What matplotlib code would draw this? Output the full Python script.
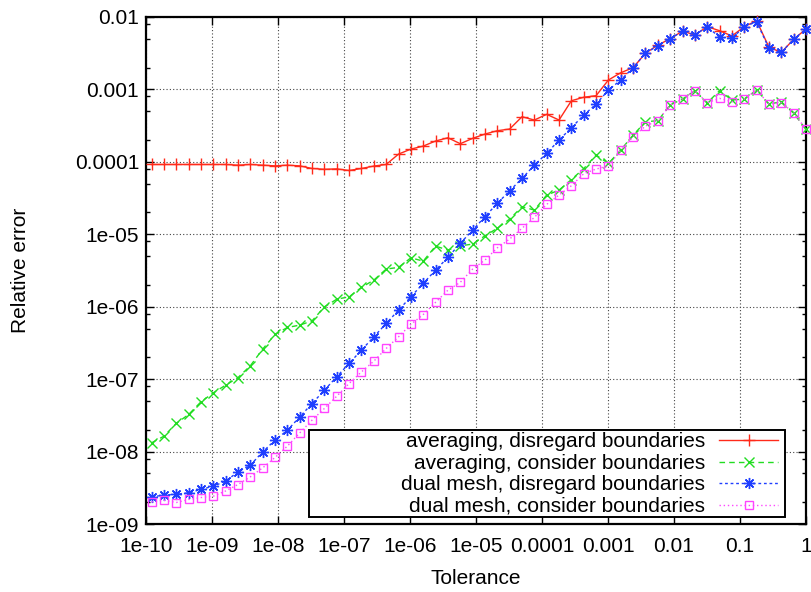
import numpy as np
import matplotlib
matplotlib.use("Agg")
import matplotlib.pyplot as plt
from matplotlib.ticker import FixedLocator, FuncFormatter, NullLocator
from matplotlib.patches import Rectangle

plt.rcParams['font.family'] = ['Liberation Sans', 'DejaVu Sans']
plt.rcParams['font.size'] = 15

# tolerance grid: 54 values, ratio 0.65 down from 1
tol = 0.65 ** np.arange(53, -1, -1)

avg_disregard = [9.2e-5, 9.2e-5, 9.2e-5, 9.2e-5, 9.2e-5, 9.2e-5, 9.2e-5, 9.0e-5, 9.2e-5, 9.0e-5,
                 8.8e-5, 9.0e-5, 8.8e-5, 8.1e-5, 7.9e-5, 8.0e-5, 7.6e-5, 8.1e-5, 8.75e-5, 9.2e-5,
                 1.28e-4, 1.50e-4, 1.65e-4, 1.94e-4, 2.15e-4, 1.78e-4, 2.11e-4, 2.42e-4, 2.69e-4, 2.84e-4,
                 4.2e-4, 3.78e-4, 4.53e-4, 3.78e-4, 6.98e-4, 7.8e-4, 8.2e-4, 1.35e-3, 1.70e-3, 2.0e-3,
                 3.16e-3, 4.1e-3, 5.0e-3, 6.4e-3, 5.64e-3, 7.35e-3, 6.47e-3, 5.47e-3, 7.35e-3, 8.9e-3,
                 3.82e-3, 3.25e-3, 4.92e-3, 6.83e-3]
avg_consider = [1.32e-8, 1.63e-8, 2.45e-8, 3.25e-8, 4.86e-8, 6.47e-8, 8.26e-8, 1.05e-7, 1.53e-7, 2.6e-7,
                4.14e-7, 5.17e-7, 5.57e-7, 6.38e-7, 9.97e-7, 1.27e-6, 1.37e-6, 1.85e-6, 2.33e-6, 3.31e-6,
                3.49e-6, 4.73e-6, 4.26e-6, 6.87e-6, 6.05e-6, 6.93e-6, 7.32e-6, 9.53e-6, 1.21e-5, 1.62e-5,
                2.4e-5, 2.16e-5, 3.48e-5, 4.07e-5, 5.7e-5, 8.07e-5, 1.24e-4, 9.5e-5, 1.46e-4, 2.34e-4,
                3.58e-4, 3.70e-4, 6.1e-4, 7.37e-4, 9.6e-4, 6.55e-4, 9.6e-4, 7.14e-4, 7.37e-4, 9.8e-4,
                6.28e-4, 6.76e-4, 4.68e-4, 2.81e-4]
dual_disregard = [2.37e-9, 2.5e-9, 2.58e-9, 2.69e-9, 3.0e-9, 3.33e-9, 3.9e-9, 5.25e-9, 6.5e-9, 9.9e-9,
                  1.44e-8, 1.97e-8, 3.01e-8, 4.61e-8, 7.05e-8, 1.08e-7, 1.65e-7, 2.52e-7, 3.84e-7, 5.87e-7,
                  8.97e-7, 1.37e-6, 2.1e-6, 3.2e-6, 4.8e-6, 7.5e-6, 1.14e-5, 1.75e-5, 2.67e-5, 3.99e-5,
                  5.9e-5, 9.0e-5, 1.31e-4, 2.0e-4, 2.96e-4, 4.42e-4, 6.28e-4, 9.8e-4, 1.35e-3, 2.0e-3,
                  3.16e-3, 4.0e-3, 5.0e-3, 6.4e-3, 5.64e-3, 7.35e-3, 5.25e-3, 5.08e-3, 7.35e-3, 8.6e-3,
                  3.7e-3, 3.25e-3, 4.92e-3, 6.83e-3]
dual_consider = [2.02e-9, 2.13e-9, 1.98e-9, 2.18e-9, 2.32e-9, 2.42e-9, 2.86e-9, 3.51e-9, 4.48e-9, 5.96e-9,
                 8.3e-9, 1.19e-8, 1.81e-8, 2.72e-8, 3.94e-8, 5.82e-8, 8.7e-8, 1.26e-7, 1.77e-7, 2.65e-7,
                 3.84e-7, 5.7e-7, 7.8e-7, 1.15e-6, 1.69e-6, 2.17e-6, 3.31e-6, 4.4e-6, 6.5e-6, 8.6e-6,
                 1.21e-5, 1.71e-5, 2.59e-5, 3.48e-5, 4.68e-5, 6.86e-5, 7.96e-5, 8.75e-5, 1.46e-4, 2.22e-4,
                 3.12e-4, 3.70e-4, 6.1e-4, 7.37e-4, 9.6e-4, 6.55e-4, 7.53e-4, 6.76e-4, 7.37e-4, 9.8e-4,
                 6.28e-4, 6.55e-4, 4.77e-4, 2.81e-4]

labels = ["averaging, disregard boundaries", "averaging, consider boundaries",
          "dual mesh, disregard boundaries", "dual mesh, consider boundaries"]

fig = plt.figure(figsize=(8.12, 5.92), dpi=100)
ax = fig.add_axes([146 / 812, 68 / 592, 660 / 812, 507 / 592])

ax.plot(tol, avg_disregard, color='#ff2a1a', lw=1, ls='-', marker='+', ms=8, mew=1,
        label=labels[0], clip_on=False, zorder=3)
ax.plot(tol, avg_consider, color='#22dd22', lw=1, ls=(0, (4, 3)), marker='x', ms=7, mew=1,
        label=labels[1], clip_on=False, zorder=3)
ax.plot(tol, dual_disregard, color='#1f3fff', lw=1, ls=(0, (2, 2)), marker=(8, 2, 0), ms=8, mew=1,
        label=labels[2], clip_on=False, zorder=3)
ax.plot(tol, dual_consider, color='#ff44ff', lw=1, ls=(0, (1, 2)), marker='s', ms=6, mew=1,
        mfc='none', label=labels[3], clip_on=False, zorder=3)

ax.set_xscale('log')
ax.set_yscale('log')
ax.set_xlim(1e-10, 1)
ax.set_ylim(1e-9, 1e-2)

ax.xaxis.set_major_locator(FixedLocator(10.0 ** np.arange(-10, 1)))
ax.xaxis.set_minor_locator(NullLocator())
ax.yaxis.set_major_locator(FixedLocator(10.0 ** np.arange(-9, -1)))
minors = [m * 10.0 ** e for e in range(-9, -2) for m in (2, 5, 8)]
ax.yaxis.set_minor_locator(FixedLocator(minors))
fmt = FuncFormatter(lambda v, p: '%g' % v)
ax.xaxis.set_major_formatter(fmt)
ax.yaxis.set_major_formatter(fmt)

ax.tick_params(which='both', direction='in', top=True, right=True, colors='black')
ax.tick_params(which='major', length=6, width=1)
ax.tick_params(which='minor', length=3, width=1)
ax.tick_params(axis='x', pad=9)
ax.tick_params(axis='y', pad=5)

ax.grid(True, which='major', color='#444444', ls=(0, (1, 2)), lw=0.8)
for s in ax.spines.values():
    s.set_linewidth(1.6)

ax.set_xlabel('Tolerance', labelpad=10)
ax.set_ylabel('Relative error', labelpad=32)

# legend box like gnuplot (wider than the text)
ax.add_patch(Rectangle((163 / 660, 7 / 507), 476 / 660, 87 / 507, transform=ax.transAxes,
                       facecolor='white', edgecolor='black', lw=1.4, zorder=4))
leg = ax.legend(loc='lower right', bbox_to_anchor=(637 / 660, 3 / 507), frameon=False,
                markerfirst=False, numpoints=1, handlelength=2.8, handletextpad=0.7,
                labelspacing=0.12, borderpad=0.25, borderaxespad=0, fontsize=15)
leg.set_zorder(5)

fig.savefig('out.png', dpi=100)
